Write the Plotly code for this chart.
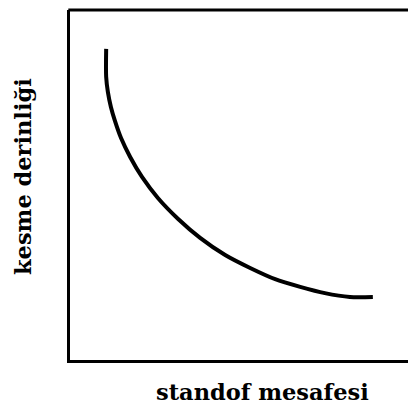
import plotly.graph_objects as go

# curve (arbitrary units, 0-10 on both axes)
standoff = [1.07, 1.07, 1.12, 1.21, 1.33, 1.51, 1.78, 2.13, 2.60, 3.20,
            3.85, 4.59, 5.33, 6.07, 6.81, 7.54, 8.28, 8.96]
depth = [8.89, 8.09, 7.66, 7.23, 6.83, 6.34, 5.80, 5.23, 4.63, 4.03,
         3.49, 3.00, 2.63, 2.31, 2.09, 1.91, 1.80, 1.80]

x_label = "standof mesafesi"
y_label = "kesme derinliği"

label_font = dict(family="DejaVu Serif", size=22.5, color="black")

fig = go.Figure()
fig.add_trace(go.Scatter(x=standoff, y=depth,
                         mode='lines',
                         line=dict(color='black', width=4, shape='spline',
                                   smoothing=0.8),
                         hoverinfo='skip'))

fig.update_layout(
    width=408,
    height=410,
    autosize=False,
    margin=dict(l=70, r=0, t=10, b=50),
    paper_bgcolor='white',
    plot_bgcolor='white',
    showlegend=False,
    xaxis=dict(range=[0, 10], showline=True, linecolor='black', linewidth=3,
               showgrid=False, zeroline=False, showticklabels=False, ticks=''),
    yaxis=dict(range=[0, 10], showline=True, linecolor='black', linewidth=3,
               showgrid=False, zeroline=False, showticklabels=False, ticks=''),
    shapes=[dict(type='line', xref='paper', yref='paper', x0=-0.005, x1=1,
                 y0=1, y1=1, line=dict(color='black', width=3))],
    annotations=[
        dict(text=f"<b>{x_label}</b>", xref='paper', yref='paper',
             x=0.571, y=-0.091, showarrow=False, font=label_font,
             xanchor='center', yanchor='middle'),
        dict(text=f"<b>{y_label}</b>", xref='paper', yref='paper',
             x=-0.139, y=0.523, showarrow=False, font=label_font,
             textangle=-90, xanchor='center', yanchor='middle'),
    ]
)

fig.write_html("out.html", config={'displayModeBar': False},
               post_script="document.body.style.margin='0px';")
